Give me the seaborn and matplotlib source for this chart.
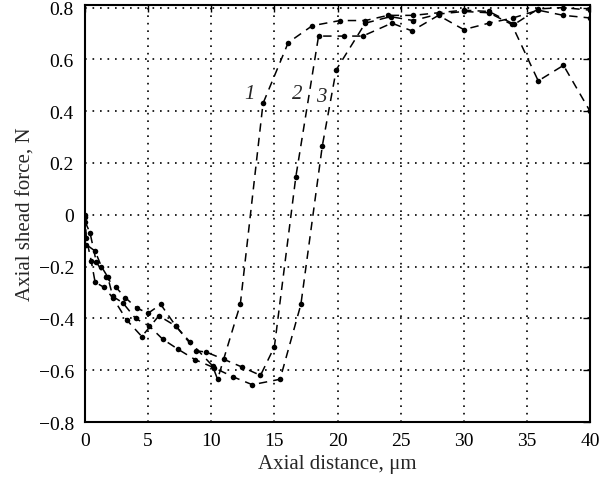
import pandas as pd
import seaborn as sns
import matplotlib.pyplot as plt

# curve 1
x1 = [0, 0.1, 0.5, 0.8, 1.5, 2.2, 3.3, 4.5, 5.85, 7.2, 8.3, 10.1, 10.5, 12.3, 14.1, 16.1, 18.0,
      20.2, 22.2, 24.0, 26.0, 28.0, 30.0, 32.0, 34.0, 35.9, 37.9, 40.0]
y1 = [0, -0.09, -0.18, -0.26, -0.28, -0.32, -0.406, -0.47, -0.39, -0.43, -0.49, -0.583, -0.635, -0.346, 0.43, 0.665, 0.73,
      0.75, 0.75, 0.77, 0.77, 0.78, 0.79, 0.785, 0.735, 0.795, 0.80, 0.79]
# curve 2
x2 = [0, 0.4, 0.9, 1.65, 2.45, 3.2, 4.1, 5.0, 6.0, 7.2, 8.8, 9.6, 11.0, 12.4, 13.9, 15.0, 16.7, 18.5,
      20.5, 22.0, 24.3, 25.9, 28.0, 30.0, 32.0, 33.9, 35.9, 37.9, 40.0]
y2 = [-0.026, -0.07, -0.183, -0.24, -0.28, -0.32, -0.36, -0.38, -0.346, -0.43, -0.525, -0.53, -0.558, -0.587, -0.62, -0.51, 0.147, 0.69,
      0.69, 0.69, 0.74, 0.71, 0.77, 0.715, 0.74, 0.76, 0.79, 0.77, 0.76]
# curve 3
x3 = [0, 0.1, 0.8, 1.3, 1.8, 2.2, 3.0, 4.0, 5.1, 6.15, 7.4, 8.75, 10.2, 11.7, 13.25, 15.45, 17.1, 18.8, 19.9,
      22.2, 24.2, 26.0, 28.0, 30.0, 32.0, 33.8, 35.9, 37.9, 40.0]
y3 = [-0.01, -0.115, -0.14, -0.2, -0.24, -0.315, -0.34, -0.40, -0.43, -0.48, -0.52, -0.56, -0.59, -0.625, -0.656, -0.635, -0.346, 0.267, 0.56,
      0.74, 0.765, 0.75, 0.775, 0.785, 0.78, 0.735, 0.517, 0.577, 0.40]

curves = ["1", "2", "3"]
label_x = [13.0, 16.8, 18.7]
label_y = [0.47, 0.47, 0.455]

frames = []
for c, xs, ys in zip(curves, [x1, x2, x3], [y1, y2, y3]):
    frames.append(pd.DataFrame({"x": xs, "y": ys, "curve": c}))
df = pd.concat(frames, ignore_index=True)

sns.set_style("white")
plt.rcParams["font.family"] = ["Liberation Serif", "DejaVu Serif"]

fig = plt.figure(figsize=(6, 4.85), dpi=100)
ax = fig.add_axes([85 / 600, 62 / 485, 505 / 600, 417 / 485])

sns.lineplot(data=df, x="x", y="y", hue="curve", units="curve", estimator=None, sort=False,
             palette=["black"] * 3, legend=False, ax=ax, linewidth=1.1,
             marker="o", markersize=4, markeredgewidth=0)
for line in ax.get_lines():
    line.set_dashes((5.5, 4))

for c, lx, ly in zip(curves, label_x, label_y):
    ax.text(lx, ly, c, fontsize=15, fontstyle="italic", ha="center", va="center")

ax.set_xlim(0, 40)
ax.set_ylim(-0.8, 0.81)
ax.set_xticks(range(0, 41, 5))
ax.set_yticks([-0.8, -0.6, -0.4, -0.2, 0, 0.2, 0.4, 0.6, 0.8])
ax.set_yticklabels(["\u22120.8", "\u22120.6", "\u22120.4", "\u22120.2", "0", "0.2", "0.4", "0.6", "0.8"])
ax.grid(True, color="black", linestyle=(0, (1, 3.5)), linewidth=1.2)
ax.tick_params(direction="in", top=True, right=True, length=5, width=1, labelsize=14, colors="black")
ax.tick_params(axis="x", pad=7)
ax.tick_params(axis="y", pad=8)
for s in ax.spines.values():
    s.set_color("black")
    s.set_linewidth(1.5)

ax.set_xlabel("Axial distance, \u03bcm", fontsize=15, labelpad=4)
ax.set_ylabel("Axial shead force, N", fontsize=15, labelpad=2)

fig.savefig("out.png", dpi=100)
